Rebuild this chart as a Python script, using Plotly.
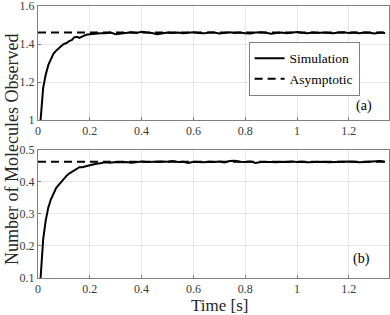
import plotly.graph_objects as go

# ---------------- data ----------------
t_sim = [0.01, 0.015, 0.02, 0.03, 0.04, 0.05, 0.06, 0.07, 0.08, 0.09, 0.10, 0.11, 0.12,
         0.13, 0.14, 0.15, 0.16, 0.17, 0.18, 0.19, 0.20, 0.22, 0.24, 0.26, 0.28, 0.30,
         0.32, 0.34, 0.36, 0.38, 0.40, 0.42, 0.44, 0.46, 0.48, 0.50, 0.52, 0.54, 0.56,
         0.58, 0.60, 0.62, 0.64, 0.66, 0.68, 0.70, 0.72, 0.74, 0.76, 0.78, 0.80, 0.82,
         0.84, 0.86, 0.88, 0.90, 0.92, 0.94, 0.96, 0.98, 1.00, 1.02, 1.04, 1.06, 1.08,
         1.10, 1.12, 1.14, 1.16, 1.18, 1.20, 1.22, 1.24, 1.26, 1.28, 1.30, 1.32, 1.34]

sim_a = [1.00, 1.10, 1.17, 1.24, 1.29, 1.32, 1.35, 1.365, 1.38, 1.39, 1.40, 1.405, 1.415,
         1.42, 1.435, 1.438, 1.432, 1.44, 1.445, 1.45, 1.452, 1.455, 1.457, 1.456, 1.46, 1.452,
         1.456, 1.458, 1.462, 1.458, 1.464, 1.46, 1.458, 1.452, 1.456, 1.46, 1.458, 1.461, 1.457,
         1.459, 1.462, 1.458, 1.456, 1.461, 1.46, 1.455, 1.459, 1.462, 1.458, 1.46, 1.457, 1.455,
         1.46, 1.462, 1.459, 1.454, 1.458, 1.46, 1.457, 1.461, 1.463, 1.459, 1.457, 1.46, 1.458,
         1.461, 1.459, 1.456, 1.46, 1.462, 1.458, 1.46, 1.457, 1.461, 1.459, 1.455, 1.46, 1.458]

sim_b = [0.10, 0.17, 0.22, 0.28, 0.32, 0.345, 0.365, 0.38, 0.39, 0.40, 0.41, 0.418, 0.425,
         0.43, 0.435, 0.44, 0.445, 0.445, 0.447, 0.45, 0.452, 0.455, 0.457, 0.46, 0.459, 0.461,
         0.46, 0.461, 0.459, 0.462, 0.463, 0.461, 0.462, 0.461, 0.463, 0.462, 0.464, 0.461, 0.462,
         0.458, 0.462, 0.461, 0.46, 0.462, 0.461, 0.463, 0.46, 0.464, 0.465, 0.462, 0.461, 0.463,
         0.458, 0.461, 0.462, 0.461, 0.46, 0.462, 0.461, 0.463, 0.461, 0.462, 0.46, 0.461, 0.463,
         0.462, 0.46, 0.461, 0.462, 0.461, 0.463, 0.462, 0.46, 0.461, 0.462, 0.461, 0.464, 0.462]

t_asym = [0.0, 1.36]
asym_a = [1.46, 1.46]
asym_b = [0.462, 0.462]

x_ticks = [0, 0.2, 0.4, 0.6, 0.8, 1, 1.2]
x_tick_labels = ["0", "0.2", "0.4", "0.6", "0.8", "1", "1.2"]
ya_ticks = [1, 1.2, 1.4, 1.6]
ya_labels = ["1", "1.2", "1.4", "1.6"]
yb_ticks = [0.1, 0.2, 0.3, 0.4, 0.5]
yb_labels = ["0.1", "0.2", "0.3", "0.4", "0.5"]

FONT = "Liberation Serif"
AX = "#808080"
TXT = "#262626"
GRID = "#e6e6e6"
DASH = "8px,5px"

fig = go.Figure()
fig.add_trace(go.Scatter(x=t_asym, y=asym_a, mode="lines", name="Asymptotic",
                         line=dict(color="black", width=2, dash=DASH),
                         xaxis="x", yaxis="y", showlegend=False))
fig.add_trace(go.Scatter(x=t_sim, y=sim_a, mode="lines", name="Simulation",
                         line=dict(color="black", width=2),
                         xaxis="x", yaxis="y", legendrank=1))
fig.add_trace(go.Scatter(x=[None], y=[None], mode="lines", name="Asymptotic",
                         line=dict(color="black", width=2, dash=DASH),
                         xaxis="x", yaxis="y", legendrank=2))
fig.add_trace(go.Scatter(x=t_asym, y=asym_b, mode="lines", name="Asymptotic",
                         line=dict(color="black", width=2, dash=DASH),
                         xaxis="x2", yaxis="y2", showlegend=False))
fig.add_trace(go.Scatter(x=t_sim, y=sim_b, mode="lines", name="Simulation",
                         line=dict(color="black", width=2),
                         xaxis="x2", yaxis="y2", showlegend=False))

axis_common = dict(showline=True, linecolor=AX, linewidth=1, mirror=True,
                   showgrid=True, gridcolor=GRID, gridwidth=1, zeroline=False,
                   ticks="inside", ticklen=3, tickcolor=AX, automargin=False,
                   ticklabeloverflow="allow",
                   tickfont=dict(family=FONT, size=12, color="#3a3a3a"))

fig.update_layout(
    template="none",
    width=390, height=315,
    margin=dict(l=38, r=1, t=6, b=37, autoexpand=False),
    paper_bgcolor="white", plot_bgcolor="white",
    font=dict(family=FONT, color=TXT),
    xaxis=dict(domain=[0, 1], range=[0, 1.355], anchor="y",
               tickvals=x_ticks, ticktext=x_tick_labels, **axis_common),
    yaxis=dict(domain=[0.5809, 1], range=[1, 1.6], anchor="x",
               tickvals=ya_ticks, ticktext=ya_labels, **axis_common),
    xaxis2=dict(domain=[0, 1], range=[0, 1.355], anchor="y2",
                tickvals=x_ticks, ticktext=x_tick_labels, **axis_common),
    yaxis2=dict(domain=[0, 0.4724], range=[0.1, 0.5], anchor="x2",
                tickvals=yb_ticks, ticktext=yb_labels, **axis_common),
    legend=dict(x=0.6, y=0.868, xanchor="left", yanchor="top",
                bgcolor="white", bordercolor=AX, borderwidth=1,
                font=dict(family=FONT, size=13.5, color="black"),
                itemwidth=30, tracegroupgap=0),
    annotations=[
        dict(text="Number of Molecules Observed", textangle=-90, showarrow=False,
             xref="paper", yref="paper", x=-0.074, y=0.4706, xanchor="center", yanchor="middle",
             font=dict(family=FONT, size=18, color=TXT)),
        dict(text="Time [s]", showarrow=False,
             xref="paper", yref="paper", x=0.5185, y=-0.1004, xanchor="center", yanchor="middle",
             font=dict(family=FONT, size=17, color=TXT)),
        dict(text="(a)", showarrow=False, xref="paper", yref="paper", x=0.929, y=0.632,
             xanchor="center", yanchor="middle", font=dict(family=FONT, size=14, color="black")),
        dict(text="(b)", showarrow=False, xref="paper", yref="paper", x=0.923, y=0.0699,
             xanchor="center", yanchor="middle", font=dict(family=FONT, size=14, color="black")),
    ],
)

fig.write_html("out.html", config={"displayModeBar": False},
               post_script="document.body.style.margin='0';document.body.style.overflow='hidden';")
